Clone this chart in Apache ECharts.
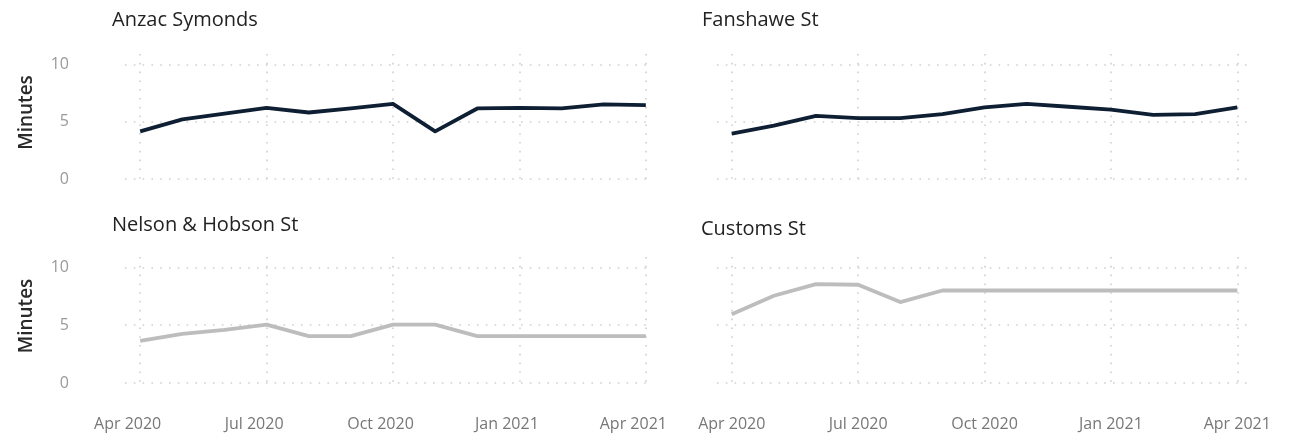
<!DOCTYPE html>
<html>
<head>
<meta charset="utf-8">
<script src="https://cdn.jsdelivr.net/npm/echarts@6/dist/echarts.min.js"></script>
<style>
html,body{margin:0;padding:0;background:#fff;}
#chart{width:1295px;height:437px;}
</style>
</head>
<body>
<div id="chart"></div>
<script>
// ---- data ----
const months = ['Apr 2020','May 2020','Jun 2020','Jul 2020','Aug 2020','Sep 2020','Oct 2020','Nov 2020','Dec 2020','Jan 2021','Feb 2021','Mar 2021','Apr 2021'];
const tickIndex = [0, 3, 6, 9, 12];
const tickLabels = ['Apr 2020','Jul 2020','Oct 2020','Jan 2021','Apr 2021'];
const yTicks = [0, 5, 10];
const titles = ['Anzac Symonds','Fanshawe St','Nelson & Hobson St','Customs St'];
const anzacSymonds = [4.15, 5.2, 5.7, 6.2, 5.8, 6.15, 6.55, 4.15, 6.15, 6.2, 6.15, 6.5, 6.45];
const fanshaweSt   = [3.95, 4.65, 5.5, 5.3, 5.3, 5.65, 6.25, 6.55, 6.3, 6.05, 5.6, 5.65, 6.25];
const nelsonHobson = [3.65, 4.25, 4.6, 5.05, 4.05, 4.05, 5.05, 5.05, 4.05, 4.05, 4.05, 4.05, 4.05];
const customsSt    = [5.95, 7.55, 8.55, 8.5, 7.0, 8.0, 8.0, 8.0, 8.0, 8.0, 8.0, 8.0, 8.0];
const yName = 'Minutes';

// ---- layout ----
const panels = [
  {grid:{left:125, right:642, top:54, bottom:258}, xmin:-0.36, xmax:12.17, xl:false, yl:true,  vals:anzacSymonds, color:'#0e1f33', title:{left:112, top:8}},
  {grid:{left:717, right:48,  top:54, bottom:258}, xmin:-0.35, xmax:12.23, xl:false, yl:false, vals:fanshaweSt,   color:'#0e1f33', title:{left:702, top:8}},
  {grid:{left:125, right:642, top:257, bottom:54}, xmin:-0.36, xmax:12.17, xl:true,  yl:true,  vals:nelsonHobson, color:'#bdbdbd', title:{left:112, top:213}, shift:true},
  {grid:{left:717, right:48,  top:257, bottom:54}, xmin:-0.35, xmax:12.23, xl:true,  yl:false, vals:customsSt,    color:'#bdbdbd', title:{left:701, top:217}}
];
const dotted = {color:'#cfcfcf', width:1.6, type:[1.6, 7.2]};
const font = '"Open Sans", "Noto Sans", sans-serif';

const option = {
  animation:false,
  backgroundColor:'#fff',
  title: panels.map((p,i)=>({text:titles[i], left:p.title.left, top:p.title.top, padding:0,
    textStyle:{fontFamily:font, fontSize:20, fontWeight:500, color:'#222', lineHeight:24}})),
  grid: panels.map(p=>p.grid),
  xAxis: panels.map((p,i)=>({
    type:'value', gridIndex:i, min:p.xmin, max:p.xmax,
    axisLine:{show:false}, axisTick:{show:false, customValues:tickIndex},
    splitLine:{show:true, lineStyle:dotted},
    axisLabel:{show:p.xl, customValues:tickIndex, margin:33, fontFamily:font, fontSize:16, color:'#777',
      padding: p.shift ? [0,25,0,0] : 0,
      formatter:v=>{const k=tickIndex.indexOf(Math.round(v)); return k>=0?tickLabels[k]:'';}}
  })),
  yAxis: panels.map((p,i)=>({
    type:'value', gridIndex:i, min:0, max:10.9,
    axisLine:{show:false}, axisTick:{show:false, customValues:yTicks},
    splitLine:{show:true, lineStyle:dotted},
    axisLabel:{show:p.yl, customValues:yTicks, margin:56, fontFamily:font, fontSize:16, color:'#9a9a9a'},
    name: p.yl ? yName : '', nameLocation:'middle', nameGap:89, nameRotate:90,
    nameTextStyle:{fontFamily:font, fontSize:19, fontWeight:600, color:'#2a2a2a', padding:[0,0,0,8]}
  })),
  series: panels.map((p,i)=>({
    type:'line', xAxisIndex:i, yAxisIndex:i, showSymbol:false, symbol:'none',
    lineStyle:{color:p.color, width:3.8, join:'round'},
    data: p.vals.map((v,k)=>[k, v])
  }))
};
const chart = echarts.init(document.getElementById('chart'), null, {renderer:'canvas'});
chart.setOption(option);
</script>
</body>
</html>
